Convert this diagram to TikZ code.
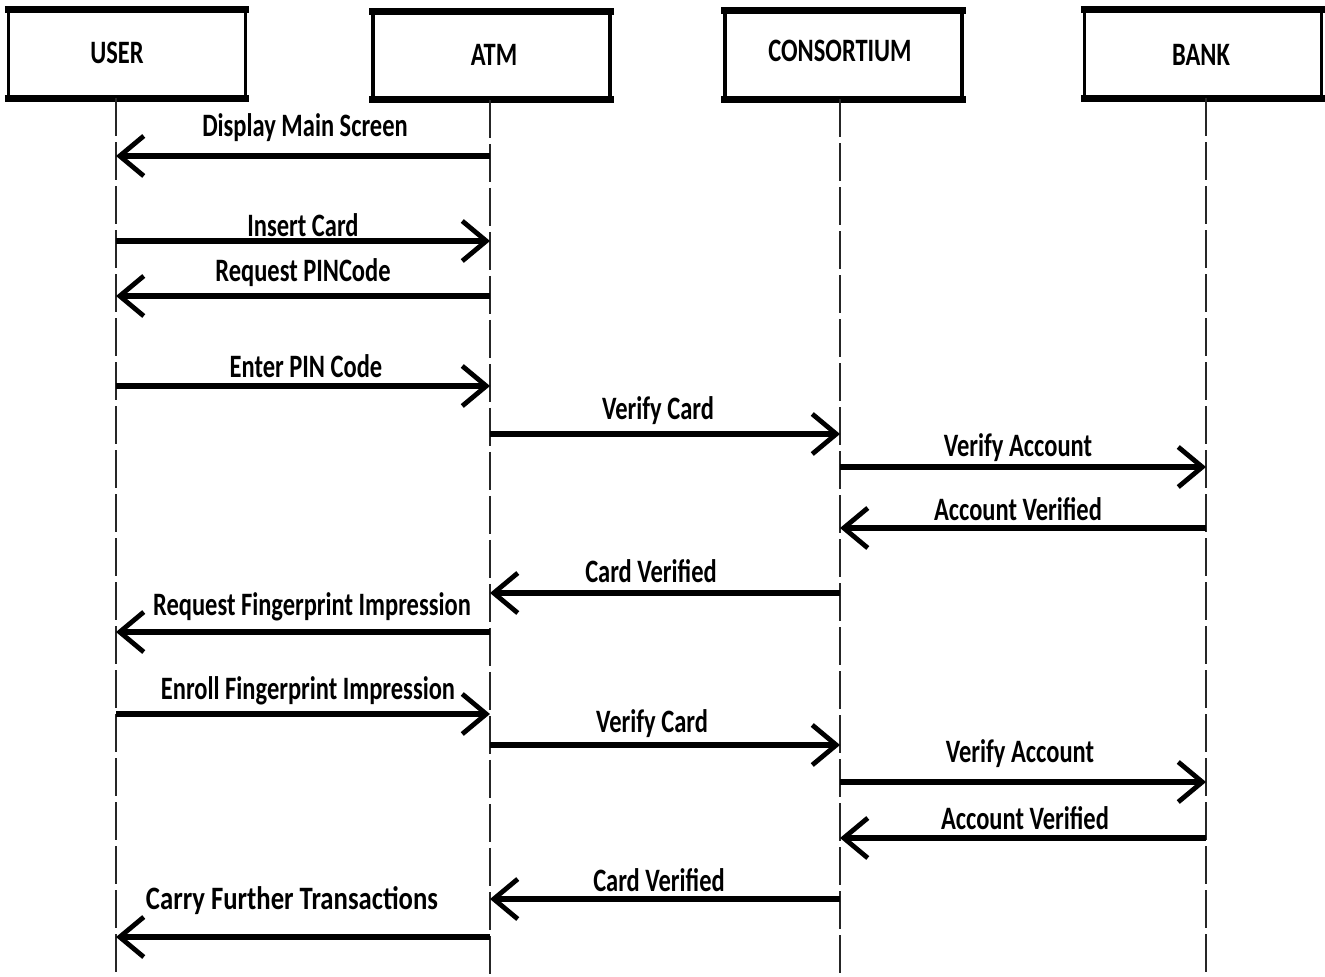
\documentclass[tikz,border=0pt]{standalone}
\usepackage{fontspec}
\setmainfont{Carlito}[FakeStretch=0.75]
\usetikzlibrary{arrows.meta}
\begin{document}
\begin{tikzpicture}[x=0.75pt,y=-0.75pt,
  font=\fontsize{24.5}{27}\selectfont\bfseries,
  actor/.style={draw, line width=2.8pt, minimum width=177.75pt, minimum height=63.75pt, inner sep=0pt},
  actortext/.style={inner sep=0pt},
  edge/.style={line width=5.4pt, shorten <=-1.4pt, shorten >=-1.4pt},
  life/.style={line width=1.1pt, black!85, dash pattern=on 28.5pt off 4.5pt},
  msg/.style={line width=4.4pt, -{Straight Barb[length=18pt, width=30pt, line width=3.6pt]}},
  lbl/.style={inner sep=1pt}]
\useasboundingbox (0,0) rectangle (1325,977);
\fill[white] (0,0) rectangle (1325,977);

% actor boxes
\node[actor] (user) at (127,54) {};
\node[actor] (atm) at (491.5,55.5) {};
\node[actor] (cons) at (843.5,55) {};
\node[actor] (bank) at (1203,54) {};
\foreach \b in {user,atm,cons,bank}{
  \draw[edge] (\b.north west) -- (\b.north east);
  \draw[edge] (\b.south west) -- (\b.south east);
}
\node[actortext] (usert) at (117,53) {USER};
\node[actortext] (atmt) at (494,55) {ATM};
\node[actortext] (const) at (840,51) {CONSORTIUM};
\node[actortext] (bankt) at (1201,55) {BANK};

% lifelines
\coordinate (uL) at (116,977);
\coordinate (aL) at (490,977);
\coordinate (cL) at (840,977);
\coordinate (bL) at (1206,977);
\draw[life] (user.south -| uL) -- (uL);
\draw[life] (atm.south -| aL) -- (aL);
\draw[life] (cons.south -| cL) -- (cL);
\draw[life] (bank.south -| bL) -- (bL);

% messages
\draw[msg] (aL |- 0,156) -- (uL |- 0,156);
\node[lbl] (l1) at (305,128) {Display Main Screen};

\draw[msg] (uL |- 0,241) -- (aL |- 0,241);
\node[lbl] (l2) at (303,225) {Insert Card};

\draw[msg] (aL |- 0,296) -- (uL |- 0,296);
\node[lbl] (l3) at (303,273) {Request PINCode};

\draw[msg] (uL |- 0,386) -- (aL |- 0,386);
\node[lbl] (l4) at (306,366) {Enter PIN Code};

\draw[msg] (aL |- 0,434) -- (cL |- 0,434);
\node[lbl] (l5) at (658,411) {Verify Card};

\draw[msg] (cL |- 0,467) -- (bL |- 0,467);
\node[lbl] (l6) at (1018,448) {Verify Account};

\draw[msg] (bL |- 0,528) -- (cL |- 0,528);
\node[lbl] (l7) at (1018,509) {Account Verified};

\draw[msg] (cL |- 0,593) -- (aL |- 0,593);
\node[lbl] (l8) at (651,571) {Card Verified};

\draw[msg] (aL |- 0,632) -- (uL |- 0,632);
\node[lbl] (l9) at (312,607) {Request Fingerprint Impression};

\draw[msg] (uL |- 0,714) -- (aL |- 0,714);
\node[lbl] (l10) at (308,691) {Enroll Fingerprint Impression};

\draw[msg] (aL |- 0,745) -- (cL |- 0,745);
\node[lbl] (l11) at (652,724) {Verify Card};

\draw[msg] (cL |- 0,782) -- (bL |- 0,782);
\node[lbl] (l12) at (1020,754) {Verify Account};

\draw[msg] (bL |- 0,838) -- (cL |- 0,838);
\node[lbl] (l13) at (1025,818) {Account Verified};

\draw[msg] (cL |- 0,899) -- (aL |- 0,899);
\node[lbl] (l14) at (659,880) {Card Verified};

\draw[msg] (aL |- 0,937) -- (uL |- 0,937);
\node[lbl, xscale=1.09] (l15) at (292,901) {Carry Further Transactions};
\end{tikzpicture}
\end{document}
